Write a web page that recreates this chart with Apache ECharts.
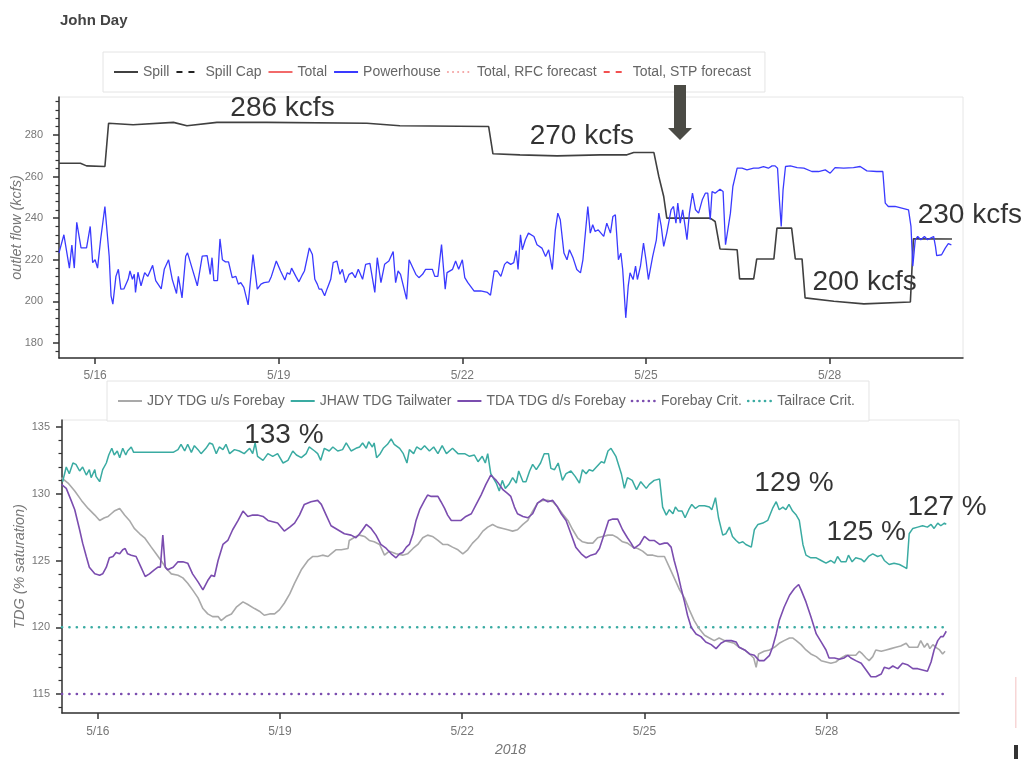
<!DOCTYPE html>
<html>
<head>
<meta charset="utf-8">
<title>John Day</title>
<script src="https://cdn.jsdelivr.net/npm/echarts@6/dist/echarts.min.js"></script>
<style>
    html, body { margin: 0; padding: 0; background: #fff; }
    #myChart { width: 1023px; height: 759px; }
</style>
</head>
<body>
<div id="myChart"></div>
<script>
    // x values are days of May 2018 (16.5 = 5/16 noon)
    const xTickDays = [16, 19, 22, 25, 28];
    const flowTicks = [180, 200, 220, 240, 260, 280];
    const tdgTicks = [115, 120, 125, 130, 135];

    const flowNames = ['Spill', 'Spill Cap', 'Total', 'Powerhouse', 'Total, RFC forecast', 'Total, STP forecast'];
    const tdgNames = ['JDY TDG u/s Forebay', 'JHAW TDG Tailwater', 'TDA TDG d/s Forebay', 'Forebay Crit.', 'Tailrace Crit.'];

    const spill = [[15.41,266.4],[15.76,266.4],[15.86,265.1],[16.16,264.8],[16.22,285.6],[16.62,284.9],[17.28,286],[17.5,284.4],
        [17.99,286],[18.8,286],[20.44,285.6],[20.98,284.4],[22.43,284],[22.5,270.9],[22.94,270.4],[23.55,269.9],[24.25,270.4],
        [24.69,270.4],[24.8,271.5],[25.13,271.5],[25.15,271.2],[25.21,260],[25.29,250.4],[25.34,240],[26.05,240],[26.13,238.4],
        [26.21,225.2],[26.49,224.8],[26.53,210.8],[26.76,210.8],[26.81,220.4],[27.09,220.4],[27.14,235.2],[27.38,235.2],
        [27.44,220.4],[27.55,220.4],[27.6,201.7],[28.07,200.1],[28.56,198.8],[29.32,199.7],[29.37,230.1],[30.0,230]];

    const powerhouse = [[15.41,223.3],[15.49,232],[15.58,216],[15.62,227],[15.66,216],[15.70,238],[15.77,225.7],[15.86,225.7],
        [15.92,236],[15.96,218.6],[16.00,220],[16.04,216],[16.09,229.7],[16.16,245.6],[16.23,221.7],[16.26,202.7],[16.29,198.7],
        [16.34,212],[16.38,215.4],[16.42,205.9],[16.47,206],[16.54,210.6],[16.57,214.6],[16.61,210.6],[16.64,213],[16.66,204.3],
        [16.70,214],[16.75,207.5],[16.81,213.8],[16.86,212],[16.94,217.3],[16.99,210],[17.08,206],[17.13,215.4],[17.20,220],
        [17.26,210.6],[17.33,203.8],[17.36,212],[17.42,201.7],[17.48,221.7],[17.51,223.3],[17.59,215.4],[17.62,216.2],[17.67,207.5],
        [17.75,221.7],[17.83,222],[17.88,213],[17.91,221],[17.94,210],[18.00,210],[18.04,230],[18.08,220],[18.13,219],[18.18,219],
        [18.24,211.4],[18.30,212],[18.34,208.3],[18.38,209],[18.43,206.7],[18.50,198.3],[18.58,222.5],[18.65,205.9],[18.71,208.3],
        [18.76,209],[18.84,209.4],[18.88,212],[18.96,219.4],[19.03,214.6],[19.10,210.3],[19.14,213.8],[19.18,213],[19.21,216],
        [19.28,212],[19.33,209.4],[19.39,213],[19.42,214.6],[19.50,225.7],[19.55,222.5],[19.59,210.6],[19.63,208.3],[19.66,205.9],
        [19.70,205.9],[19.75,202.7],[19.79,206],[19.85,210.6],[19.89,218.6],[19.95,219.4],[20.00,213],[20.04,215.4],[20.09,209],
        [20.15,213],[20.20,213.8],[20.25,211.4],[20.30,215.4],[20.37,210.6],[20.42,217.8],[20.49,218.3],[20.57,204.3],[20.61,221],
        [20.67,209],[20.73,217.8],[20.80,219.4],[20.87,224],[20.91,209],[20.95,214.6],[20.99,213],[21.09,201],[21.13,220],
        [21.24,213],[21.29,211.4],[21.35,213],[21.40,215.4],[21.51,215.4],[21.55,212],[21.60,212],[21.66,227.3],[21.72,205.9],
        [21.75,213.8],[21.84,215.4],[21.89,219.4],[21.94,215.4],[22.00,220],[22.04,211.4],[22.09,209],[22.19,205],[22.30,205],
        [22.41,204.3],[22.46,203],[22.52,214.6],[22.57,214.6],[22.63,212],[22.69,217.8],[22.73,219],[22.79,217.8],[22.84,218.6],
        [22.88,224.4],[22.91,215.4],[22.95,232],[22.98,224.8],[23.03,229.6],[23.08,232.8],[23.17,231.2],[23.22,227.2],[23.30,225.6],
        [23.36,221.6],[23.41,224.8],[23.47,215.3],[23.52,234.4],[23.56,242.4],[23.60,239.2],[23.66,223.2],[23.71,220],[23.75,224.8],
        [23.81,220.8],[23.87,215.3],[23.93,213.7],[23.97,220],[24.05,245.6],[24.09,232.8],[24.13,236.8],[24.17,233.6],[24.22,234.4],
        [24.25,235.2],[24.31,231.2],[24.36,237.6],[24.42,232.8],[24.46,240.8],[24.50,241.6],[24.55,220],[24.59,223.2],[24.62,215.3],
        [24.67,192.1],[24.71,207.3],[24.74,213.7],[24.79,210.5],[24.83,216.9],[24.86,210.5],[24.91,216.9],[24.96,228],[25.00,220],
        [25.04,210.5],[25.11,221.6],[25.17,229.6],[25.21,242.4],[25.25,236],[25.29,226.4],[25.34,232.8],[25.41,244],[25.45,245.6],
        [25.49,237.6],[25.52,247.2],[25.56,237.6],[25.60,244],[25.64,236],[25.67,229.6],[25.71,242.4],[25.76,252],[25.81,244],
        [25.86,242.4],[25.92,248.8],[25.97,252],[26.01,252],[26.05,239.2],[26.08,252.8],[26.13,252],[26.21,253.9],[26.26,252.8],
        [26.30,227.2],[26.32,227.2],[26.38,242.4],[26.42,255.2],[26.49,264],[26.57,264],[26.65,263.2],[26.76,264],[26.84,264],
        [26.92,264.8],[27.00,264],[27.06,265.1],[27.11,265.1],[27.15,264],[27.18,248.8],[27.21,236],[27.24,253.6],[27.28,264.8],
        [27.36,265.1],[27.47,264.3],[27.58,264],[27.71,262.4],[27.82,262.4],[27.93,263.2],[28.01,261.6],[28.09,264.3],[28.23,264],
        [28.39,264.3],[28.50,264.8],[28.61,262.7],[28.77,262.4],[28.87,262.4],[28.91,247.2],[28.96,245.6],[29.07,245.6],[29.18,244.8],
        [29.29,244],[29.33,236],[29.36,216.9],[29.40,229.6],[29.44,231.2],[29.49,229.6],[29.55,231.2],[29.60,229.6],[29.65,230.4],
        [29.70,231.2],[29.73,226.4],[29.75,222],[29.83,222.4],[29.89,225.6],[29.94,227.7],[29.99,227.2]];

    const jdyForebay = [[15.40,131.2],[15.51,130.8],[15.62,130.2],[15.73,129.5],[15.84,128.9],[15.95,128.4],[16.03,128.0],[16.11,128.2],
        [16.17,128.3],[16.22,128.5],[16.27,128.7],[16.36,128.9],[16.44,128.4],[16.52,128.0],[16.60,127.4],[16.69,127.0],[16.77,126.7],
        [16.88,126.0],[16.96,125.5],[17.04,125.0],[17.13,124.4],[17.21,124.0],[17.32,123.9],[17.40,123.7],[17.48,123.3],[17.56,122.8],
        [17.65,122.2],[17.73,121.4],[17.81,121.0],[17.89,120.8],[17.98,120.8],[18.03,120.5],[18.11,120.8],[18.20,121.0],[18.28,121.5],
        [18.39,121.9],[18.47,121.7],[18.58,121.4],[18.66,121.2],[18.74,120.9],[18.83,121.0],[18.91,121.0],[18.99,121.3],[19.07,121.8],
        [19.16,122.5],[19.24,123.3],[19.35,124.3],[19.46,125.0],[19.54,125.3],[19.62,125.3],[19.70,125.4],[19.79,125.3],[19.84,125.5],
        [19.92,125.8],[20.01,125.8],[20.12,125.9],[20.14,126.5],[20.25,126.8],[20.31,126.9],[20.39,126.8],[20.47,126.5],[20.55,126.4],
        [20.64,126.2],[20.72,125.4],[20.80,125.7],[20.91,125.5],[21.02,125.4],[21.10,125.5],[21.19,125.9],[21.27,126.2],[21.35,126.7],
        [21.43,126.9],[21.51,126.8],[21.60,126.5],[21.68,126.2],[21.76,126.2],[21.84,126.0],[21.93,125.8],[22.01,125.5],[22.09,125.8],
        [22.17,126.3],[22.26,126.7],[22.34,127.2],[22.42,127.5],[22.50,127.7],[22.58,127.5],[22.67,127.4],[22.75,127.3],[22.83,127.2],
        [22.91,127.3],[23.00,127.7],[23.08,128.0],[23.16,128.7],[23.24,129.3],[23.33,129.5],[23.41,129.5],[23.49,129.4],[23.57,129.0],
        [23.65,128.5],[23.74,128.0],[23.82,127.3],[23.90,126.7],[23.98,126.4],[24.07,126.3],[24.15,126.3],[24.23,126.7],[24.31,126.8],
        [24.40,126.9],[24.48,126.9],[24.56,126.7],[24.64,126.4],[24.72,126.3],[24.81,126.0],[24.89,125.9],[24.97,125.7],[25.05,125.4],
        [25.14,125.4],[25.22,125.3],[25.33,125.3],[25.41,124.5],[25.49,123.7],[25.58,122.8],[25.66,122.2],[25.74,121.3],[25.82,120.5],
        [25.90,119.9],[25.99,119.4],[26.07,119.2],[26.15,119.0],[26.23,119.2],[26.32,119.0],[26.40,118.9],[26.48,118.8],[26.56,118.5],
        [26.65,118.3],[26.73,118.0],[26.80,117.7],[26.84,117.0],[26.88,118.0],[26.97,118.2],[27.06,118.3],[27.14,118.5],[27.22,118.8],
        [27.30,119.0],[27.39,119.2],[27.44,119.2],[27.50,119.0],[27.58,118.7],[27.66,118.3],[27.74,118.0],[27.83,117.8],[27.91,117.5],
        [27.99,117.4],[28.07,117.3],[28.15,117.4],[28.24,117.7],[28.32,117.9],[28.40,117.9],[28.48,117.9],[28.54,118.2],[28.59,118.0],
        [28.65,117.7],[28.70,117.5],[28.76,117.8],[28.81,118.3],[28.90,118.2],[28.98,118.3],[29.06,118.4],[29.14,118.5],[29.22,118.6],
        [29.31,118.8],[29.36,118.5],[29.43,118.5],[29.50,118.5],[29.55,119.0],[29.61,118.5],[29.66,118.8],[29.70,118.4],[29.75,118.7],
        [29.80,118.5],[29.86,118.3],[29.91,118.0],[29.95,118.2]];

    const jhawTailwater = [[15.42,130.9],[15.48,132.0],[15.53,131.5],[15.59,132.3],[15.64,132.2],[15.70,131.7],[15.75,132.0],[15.81,131.4],
        [15.86,131.8],[15.89,131.2],[15.95,131.8],[15.97,131.3],[16.03,130.9],[16.08,131.8],[16.14,132.3],[16.18,132.9],[16.23,133.4],
        [16.27,132.9],[16.32,133.2],[16.36,132.7],[16.41,133.4],[16.46,132.9],[16.49,133.2],[16.55,133.5],[16.59,133.1],[16.93,133.1],
        [17.24,133.1],[17.32,133.3],[17.37,133.7],[17.43,133.2],[17.48,133.7],[17.54,133.1],[17.59,133.6],[17.65,133.3],[17.70,133.0],
        [17.78,133.4],[17.84,133.8],[17.89,133.7],[17.95,133.0],[18.00,133.5],[18.06,133.3],[18.11,133.7],[18.17,133.0],[18.25,133.3],
        [18.33,133.2],[18.41,133.0],[18.50,133.4],[18.55,133.0],[18.59,133.8],[18.63,132.8],[18.72,132.5],[18.80,133.0],[18.88,132.8],
        [18.96,133.0],[19.05,132.3],[19.13,132.5],[19.21,133.2],[19.27,132.9],[19.35,132.7],[19.43,133.0],[19.48,133.5],[19.57,133.2],
        [19.62,133.0],[19.67,132.5],[19.73,133.4],[19.81,133.2],[19.87,133.5],[19.95,133.2],[20.03,133.3],[20.09,133.8],[20.17,133.2],
        [20.25,133.4],[20.31,133.5],[20.36,133.8],[20.42,133.4],[20.46,133.9],[20.52,133.5],[20.55,133.8],[20.59,132.7],[20.65,133.0],
        [20.70,133.4],[20.77,133.7],[20.83,134.1],[20.88,133.7],[20.97,133.4],[21.03,133.0],[21.09,132.3],[21.13,133.3],[21.20,133.0],
        [21.25,133.5],[21.32,133.3],[21.38,133.6],[21.46,133.2],[21.53,133.5],[21.60,133.0],[21.67,133.6],[21.74,133.0],[21.84,133.4],
        [21.93,133.0],[22.04,133.0],[22.12,132.8],[22.20,132.9],[22.26,132.4],[22.33,132.8],[22.38,132.3],[22.42,133.0],[22.47,131.5],
        [22.56,130.8],[22.61,130.2],[22.66,131.0],[22.71,130.4],[22.77,130.7],[22.83,131.2],[22.89,130.8],[22.93,131.7],[23.00,130.9],
        [23.05,130.9],[23.11,131.7],[23.16,132.2],[23.22,131.8],[23.29,132.3],[23.35,133.0],[23.42,133.0],[23.46,131.9],[23.52,131.8],
        [23.58,132.3],[23.65,131.0],[23.71,131.5],[23.79,131.7],[23.86,131.3],[23.93,130.8],[23.98,131.8],[24.04,131.5],[24.09,131.8],
        [24.15,131.7],[24.21,132.0],[24.29,132.4],[24.34,132.3],[24.40,133.2],[24.45,133.4],[24.53,132.8],[24.62,131.5],[24.67,130.4],
        [24.72,131.2],[24.80,131.0],[24.87,130.3],[24.94,130.9],[25.03,130.4],[25.08,130.7],[25.16,131.0],[25.25,131.1],[25.30,129.0],
        [25.36,128.4],[25.41,128.8],[25.47,128.5],[25.51,129.0],[25.56,128.7],[25.62,128.7],[25.67,128.2],[25.73,128.8],[25.78,129.2],
        [25.84,128.9],[25.90,129.1],[25.99,129.1],[26.07,129.0],[26.11,128.8],[26.17,129.7],[26.22,128.2],[26.29,126.9],[26.34,127.0],
        [26.40,127.5],[26.45,126.8],[26.51,126.5],[26.56,126.3],[26.62,126.4],[26.67,126.2],[26.76,126.0],[26.81,127.3],[26.87,127.7],
        [26.95,127.8],[27.03,128.0],[27.11,128.9],[27.17,129.4],[27.22,128.8],[27.28,129.0],[27.33,128.8],[27.38,129.2],[27.44,128.7],
        [27.50,128.4],[27.55,128.0],[27.61,126.2],[27.66,125.4],[27.74,125.2],[27.83,125.2],[27.91,125.0],[27.99,124.8],[28.07,125.0],
        [28.13,124.8],[28.18,125.3],[28.24,124.9],[28.32,124.9],[28.36,125.4],[28.42,124.9],[28.48,125.2],[28.57,125.1],[28.62,124.9],
        [28.69,125.3],[28.76,125.5],[28.84,125.3],[28.90,125.4],[28.95,125.0],[29.03,124.7],[29.11,124.8],[29.20,124.7],[29.28,124.5],
        [29.32,124.4],[29.36,127.0],[29.42,127.4],[29.50,127.5],[29.58,127.6],[29.66,127.5],[29.72,127.7],[29.77,127.4],[29.83,127.8],
        [29.88,127.6],[29.94,127.8],[29.97,127.7]];

    const tdaForebay = [[15.40,130.7],[15.48,130.4],[15.56,129.5],[15.62,128.8],[15.70,127.3],[15.75,126.3],[15.81,125.3],[15.86,124.5],
        [15.95,124.0],[16.03,123.9],[16.08,124.0],[16.14,124.5],[16.19,125.2],[16.25,125.3],[16.30,125.6],[16.36,125.5],[16.41,125.8],
        [16.45,125.9],[16.49,125.5],[16.55,125.4],[16.63,125.3],[16.71,124.5],[16.78,123.8],[16.85,124.0],[16.93,124.3],[16.99,124.5],
        [17.03,124.5],[17.07,126.9],[17.11,124.5],[17.15,124.3],[17.24,124.5],[17.32,124.9],[17.40,124.9],[17.48,124.8],[17.56,124.0],
        [17.65,123.4],[17.73,122.8],[17.81,123.5],[17.87,123.9],[17.92,123.8],[17.98,125.0],[18.06,126.2],[18.14,126.5],[18.22,127.3],
        [18.31,128.0],[18.39,128.7],[18.47,128.3],[18.55,128.4],[18.63,128.4],[18.72,128.3],[18.80,128.0],[18.88,127.9],[18.96,127.8],
        [19.07,127.2],[19.16,127.5],[19.24,127.8],[19.32,128.4],[19.40,129.2],[19.51,129.4],[19.62,129.5],[19.68,129.2],[19.76,128.4],
        [19.84,127.6],[19.95,127.3],[20.06,127.0],[20.17,126.9],[20.25,126.7],[20.31,127.0],[20.36,127.3],[20.42,127.7],[20.50,127.4],
        [20.58,126.9],[20.66,126.2],[20.75,125.9],[20.83,125.5],[20.91,125.2],[20.97,125.5],[21.02,125.6],[21.08,126.0],[21.13,126.2],
        [21.19,127.0],[21.24,128.0],[21.30,128.8],[21.38,129.5],[21.43,129.9],[21.49,129.8],[21.54,129.8],[21.60,129.8],[21.65,129.4],
        [21.71,128.9],[21.76,128.4],[21.82,128.0],[21.90,128.0],[21.98,128.0],[22.06,128.3],[22.15,128.5],[22.23,129.2],[22.31,129.9],
        [22.39,130.7],[22.47,131.4],[22.50,131.5],[22.56,131.0],[22.61,130.7],[22.67,130.3],[22.75,130.0],[22.80,129.8],[22.86,129.0],
        [22.91,128.5],[23.00,128.3],[23.08,128.2],[23.16,128.5],[23.24,129.3],[23.33,129.6],[23.41,129.4],[23.49,129.5],[23.57,129.0],
        [23.63,128.5],[23.71,128.0],[23.79,127.0],[23.87,126.0],[23.96,125.5],[24.04,125.2],[24.12,125.4],[24.20,125.5],[24.26,125.9],
        [24.34,127.0],[24.41,128.0],[24.48,128.1],[24.56,128.1],[24.64,127.3],[24.72,126.7],[24.78,126.3],[24.83,125.9],[24.92,126.2],
        [25.00,126.8],[25.08,126.5],[25.16,126.5],[25.25,126.2],[25.33,126.3],[25.38,126.3],[25.44,126.0],[25.49,125.0],[25.55,124.0],
        [25.60,123.0],[25.66,121.9],[25.71,120.9],[25.77,120.0],[25.85,119.5],[25.93,119.3],[26.01,118.9],[26.10,118.7],[26.18,118.4],
        [26.26,118.8],[26.34,119.0],[26.43,119.0],[26.51,118.9],[26.56,118.5],[26.65,118.3],[26.73,118.0],[26.81,117.9],[26.89,117.5],
        [26.97,117.5],[27.06,117.9],[27.11,118.5],[27.17,119.5],[27.22,120.5],[27.30,121.5],[27.39,122.4],[27.47,122.9],[27.54,123.2],
        [27.58,122.8],[27.66,121.9],[27.74,120.8],[27.83,119.5],[27.91,118.9],[27.99,118.3],[28.04,117.7],[28.13,117.7],[28.21,117.6],
        [28.29,117.7],[28.35,117.9],[28.40,117.7],[28.48,117.5],[28.57,117.3],[28.65,116.8],[28.73,116.3],[28.81,116.3],[28.90,116.5],
        [28.95,117.0],[29.03,116.9],[29.09,117.1],[29.17,116.9],[29.25,117.3],[29.33,117.2],[29.42,116.9],[29.50,116.9],[29.58,116.8],
        [29.66,116.7],[29.72,117.4],[29.77,118.3],[29.83,119.0],[29.88,119.3],[29.92,119.3],[29.97,119.7]];

    const forebayCrit = [[15.41, 115], [29.99, 115]];
    const tailraceCrit = [[15.41, 120], [29.99, 120]];

    // annotation text, anchored at its left edge
    const flowNotes = [[18.21, 293, '286 kcfs'], [23.10, 279.3, '270 kcfs'], [29.44, 241.2, '230 kcfs'], [27.72, 209.0, '200 kcfs']];
    const tdgNotes = [[18.41, 134.4, '133 %'], [26.81, 130.8, '129 %'], [28.0, 127.1, '125 %'], [29.33, 129.0, '127 %']];

    const FONT = 'Liberation Sans, Arial, sans-serif';
    const AXIS = '#333';

    function minorTicks(lo, hi, step, majors) {
        const out = [];
        for (let v = lo; v <= hi; v += step) {
            if (majors.indexOf(v) < 0) out.push(v);
        }
        return out;
    }

    function dayAxis(gridIndex, name, margin) {
        return {
            type: 'value', gridIndex: gridIndex, min: 15.41, max: 30.18,
            splitLine: { show: false },
            axisLine: { show: true, onZero: false, lineStyle: { color: AXIS, width: 1.5 } },
            axisTick: { show: true, customValues: xTickDays, length: 6, lineStyle: { color: AXIS, width: 1.5 } },
            axisLabel: { customValues: xTickDays, formatter: v => '5/' + Math.round(v), color: '#777', fontSize: 12, fontFamily: FONT, margin: margin },
            name: name, nameLocation: 'middle', nameGap: 30, nameMoveOverlap: false,
            nameTextStyle: { color: '#777', fontSize: 14, fontStyle: 'italic', fontFamily: FONT }
        };
    }

    function valueAxes(gridIndex, min, max, majors, minors, name, margin, nameGap) {
        return [{
            type: 'value', gridIndex: gridIndex, min: min, max: max, position: 'left',
            splitLine: { show: false },
            axisLine: { show: true, onZero: false, lineStyle: { color: AXIS, width: 1.5 } },
            axisTick: { show: true, customValues: majors, length: 6, lineStyle: { color: AXIS, width: 1.5 } },
            axisLabel: { customValues: majors, color: '#777', fontSize: 11, fontFamily: FONT, margin: margin },
            name: name, nameLocation: 'middle', nameGap: nameGap, nameMoveOverlap: false,
            nameTextStyle: { color: '#777', fontSize: 14.5, fontStyle: 'italic', fontFamily: FONT }
        }, {
            type: 'value', gridIndex: gridIndex, min: min, max: max, position: 'left', offset: 0,
            splitLine: { show: false },
            axisLine: { show: false, onZero: false },
            axisTick: { show: true, customValues: minors, length: 3.5, lineStyle: { color: AXIS, width: 1.2 } },
            axisLabel: { show: false }
        }];
    }

    function line(name, data, color, width, type, xi, yi) {
        return {
            name: name, type: 'line', data: data, xAxisIndex: xi, yAxisIndex: yi,
            symbol: 'none', color: color,
            lineStyle: { color: color, width: width, type: type || 'solid', cap: Array.isArray(type) ? 'round' : 'butt' }
        };
    }

    function notes(data, xi, yi) {
        return {
            type: 'scatter', data: data, xAxisIndex: xi, yAxisIndex: yi, symbolSize: 0, silent: true,
            label: { show: true, position: 'inside', align: 'left', verticalAlign: 'middle',
                formatter: p => p.data[2], color: '#000', fontSize: 28, fontFamily: FONT }
        };
    }

    // legend line patterns that differ from the plotted ones
    const legendLines = {
        'Spill Cap': { type: [6, 6], width: 2 },
        'Total, RFC forecast': { type: [0.1, 5], width: 2, cap: 'round' },
        'Total, STP forecast': { type: [6, 6], width: 2 },
        'Forebay Crit.': { type: [0.1, 5.5], width: 2.6, cap: 'round' },
        'Tailrace Crit.': { type: [0.1, 5.5], width: 2.6, cap: 'round' }
    };

    function legend(names, left, top, gap) {
        return {
            data: names.map(n => legendLines[n] ? { name: n, lineStyle: legendLines[n] } : { name: n }),
            left: left, top: top, itemWidth: 24, itemHeight: 12, itemGap: gap,
            padding: [13, 14, 13, 10], backgroundColor: '#fff', borderColor: '#e4e4e4', borderWidth: 1,
            itemStyle: { opacity: 0 },
            lineStyle: { width: 2 },
            textStyle: { color: '#666', fontSize: 14, fontFamily: FONT }
        };
    }

    const dotted = [0.1, 7.3];
    const flowYAxes = valueAxes(0, 172.8, 298.2, flowTicks, minorTicks(176, 296, 4, flowTicks), 'outlet flow (kcfs)', 16, 35);
    const tdgYAxes = valueAxes(1, 113.58, 135.52, tdgTicks, minorTicks(114, 134, 1, tdgTicks), 'TDG (% saturation)', 12, 35);

    const chart = echarts.init(document.getElementById('myChart'));
    chart.setOption({
        animation: false,
        backgroundColor: '#fff',
        textStyle: { fontFamily: FONT },
        title: { text: 'John Day', left: 55, top: 8, textStyle: { color: '#444', fontSize: 15, fontWeight: 'bold', fontFamily: FONT } },
        legend: [legend(flowNames, 103, 52, 6), legend(tdgNames, 107, 381, 5)],
        grid: [
            { left: 59, top: 97, width: 904, height: 261, show: true, borderColor: '#e6e6e6', borderWidth: 1,
              containLabel: false, outerBoundsMode: 'none' },
            { left: 62, top: 420, width: 897, height: 293, show: true, borderColor: '#e6e6e6', borderWidth: 1,
              containLabel: false, outerBoundsMode: 'none' }
        ],
        xAxis: [dayAxis(0, '', 12), dayAxis(1, '2018', 13)],
        yAxis: flowYAxes.concat(tdgYAxes),
        series: [
            line('Spill', spill, '#404040', 1.6, 'solid', 0, 0),
            line('Spill Cap', [], '#222', 1.6, 'dashed', 0, 0),
            line('Total', [], '#f26a6a', 1.6, 'solid', 0, 0),
            line('Powerhouse', powerhouse, '#3a3aff', 1.3, 'solid', 0, 0),
            line('Total, RFC forecast', [], '#f4a3a3', 2, 'dotted', 0, 0),
            line('Total, STP forecast', [], '#f25050', 1.8, 'dashed', 0, 0),
            notes(flowNotes, 0, 0),
            line('Forebay Crit.', forebayCrit, '#7b4daf', 2.6, dotted, 1, 2),
            line('Tailrace Crit.', tailraceCrit, '#3aaba2', 2.6, dotted, 1, 2),
            line('JDY TDG u/s Forebay', jdyForebay, '#a9a9a9', 1.6, 'solid', 1, 2),
            line('JHAW TDG Tailwater', jhawTailwater, '#3aaba2', 1.5, 'solid', 1, 2),
            line('TDA TDG d/s Forebay', tdaForebay, '#7b4daf', 1.6, 'solid', 1, 2),
            notes(tdgNotes, 1, 2)
        ],
        graphic: [
            { type: 'polygon', z: 100, shape: { points: [[674, 85], [686, 85], [686, 128], [692, 128], [680, 140], [668, 128], [674, 128]] },
              style: { fill: '#4b4b45' } },
            { type: 'rect', shape: { x: 1015, y: 677, width: 1.5, height: 51 }, style: { fill: '#f7d6d6' } },
            { type: 'rect', shape: { x: 1014, y: 745, width: 4, height: 14 }, style: { fill: '#333' } }
        ]
    });
</script>
</body>
</html>
